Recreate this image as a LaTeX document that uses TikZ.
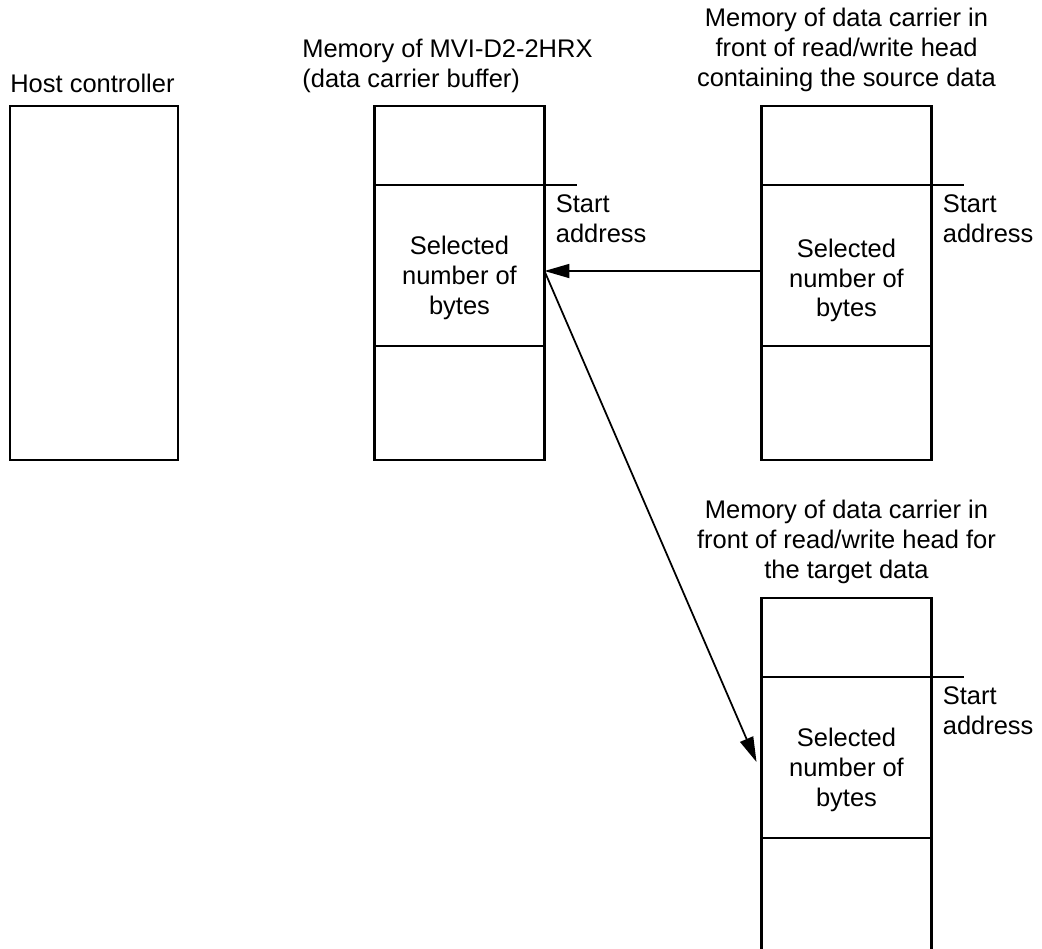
\documentclass[tikz,border=0pt]{standalone}
\usepackage{fontspec}
\setmainfont{Liberation Sans}
\usetikzlibrary{positioning, arrows.meta}

\begin{document}
\begin{tikzpicture}[x=0.02cm, y=-0.02cm, font=\fontsize{14.5pt}{17pt}\selectfont,
  cell/.style={draw, line width=1.25pt, minimum width=3.4cm, inner sep=0pt, outer sep=0pt},
  topcell/.style={cell, minimum height=1.58cm},
  selcell/.style={cell, minimum height=3.22cm},
  botcell/.style={cell, minimum height=2.28cm},
  lbl/.style={inner sep=0pt},
  flow/.style={line width=1pt, -{Triangle[length=0.5cm, width=0.28cm]}}]
  \clip (0,0) rectangle (1042,948);
  % host
  \node[cell, minimum width=3.36cm, minimum height=7.08cm] (host) at (94,283) {};
  \node[lbl, anchor=base west] (hostlbl) at (10,92) {Host controller};
  % data carrier buffer
  \node[selcell] (mvisel) at (459.5,265.5) {};
  \node[topcell, above=0pt of mvisel] (mvitop) {};
  \node[botcell, below=0pt of mvisel] (mvibot) {};
  \node[lbl, align=center] (mvitxt) at ([yshift=-0.25cm]mvisel.center) {Selected\\number of\\bytes};
  \node[lbl, anchor=south west, align=left] (mvilbl) at (302,93) {Memory of MVI-D2-2HRX\\(data carrier buffer)};
  \draw[line width=1.25pt] (mvisel.north east) -- ++(33,0);
  \node[lbl, align=left, below right=0.18cm and 0.22cm of mvisel.north east] (mvistart) {Start\\address};
  % source carrier
  \node[selcell] (srcsel) at (846.5,265.5) {};
  \node[topcell, above=0pt of srcsel] (srctop) {};
  \node[botcell, below=0pt of srcsel] (srcbot) {};
  \node[lbl, align=center] (srctxt) at ([yshift=-0.3cm]srcsel.center) {Selected\\number of\\bytes};
  \node[lbl, anchor=south, align=center] (srclbl) at (846.5,92) {Memory of data carrier in\\front of read/write head\\containing the source data};
  \draw[line width=1.25pt] (srcsel.north east) -- ++(33,0);
  \node[lbl, align=left, below right=0.18cm and 0.22cm of srcsel.north east] (srcstart) {Start\\address};
  % target carrier
  \node[selcell] (tgtsel) at (846.5,757.5) {};
  \node[topcell, above=0pt of tgtsel] (tgttop) {};
  \node[botcell, below=0pt of tgtsel] (tgtbot) {};
  \node[lbl, align=center] (tgttxt) at ([yshift=-0.25cm]tgtsel.center) {Selected\\number of\\bytes};
  \node[lbl, anchor=south, align=center] (tgtlbl) at (846.5,584) {Memory of data carrier in\\front of read/write head for\\the target data};
  \draw[line width=1.25pt] (tgtsel.north east) -- ++(33,0);
  \node[lbl, align=left, below right=0.18cm and 0.22cm of tgtsel.north east] (tgtstart) {Start\\address};
  % copy path
  \draw[flow] ([yshift=-0.11cm]srcsel.west) -- ([yshift=-0.11cm]mvisel.east);
  \draw[flow] ([yshift=-0.11cm]mvisel.east) -- ([shift={(-0.1cm,-0.09cm)}]tgtsel.west);
\end{tikzpicture}
\end{document}
